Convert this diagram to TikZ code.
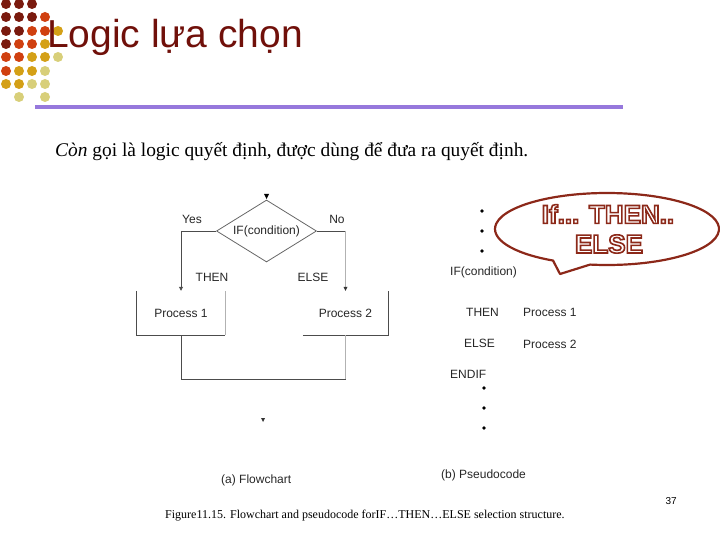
\documentclass[tikz,border=0pt]{standalone}
\usepackage{fontspec}
\setmainfont{Liberation Serif}
\newfontfamily\arial{Liberation Sans}
\usetikzlibrary{shapes.geometric,arrows.meta,calc}
\definecolor{dr}{RGB}{122,26,14}
\definecolor{orr}{RGB}{208,64,16}
\definecolor{gd}{RGB}{212,160,23}
\definecolor{pl}{RGB}{216,207,122}
\definecolor{titlec}{RGB}{112,16,10}
\definecolor{rulec}{RGB}{150,120,220}
\definecolor{callc}{RGB}{140,40,25}
\newcommand\outltext[1]{\special{pdf:literal direct 2 Tr 1.6 w 0.55 0.16 0.1 RG 1 1 1 rg}#1\special{pdf:literal direct 0 Tr 0 0 0 rg 0 0 0 RG 1 w}}
\begin{document}
\begin{tikzpicture}[x=1pt,y=-1pt,
  fc/.style={font=\arial\fontsize{12}{14}\selectfont, text=black!85, inner sep=0pt},
  dk/.style={draw=black!70, line width=0.8pt},
  lt/.style={draw=black!30, line width=0.8pt},
  tip/.style={-{Triangle[width=4pt,length=4pt]}},
  bul/.style={fill=black, circle, inner sep=0pt, minimum size=3.6pt}]
\useasboundingbox (0,0) rectangle (720,540);
% decorative dots
\foreach \x/\y/\c in {6/4/dr,19/4/dr,32/4/dr,
  6/17/dr,19/17/dr,32/17/dr,45/17/orr,
  6/31/dr,19/31/dr,32/31/orr,45/31/orr,58/31/gd,
  6/44/dr,19/44/orr,32/44/orr,45/44/gd,
  6/57/orr,19/57/orr,32/57/gd,45/57/gd,58/57/pl,
  6/71/orr,19/71/gd,32/71/gd,45/71/pl,
  6/84/gd,19/84/gd,32/84/pl,45/84/pl,
  19/97/pl,45/97/pl}
  \fill[\c] (\x,\y) circle (5pt);
% title
\node[anchor=base west, inner sep=0pt, text=titlec, font=\arial\fontsize{39}{42}\selectfont] (title) at (47,48) {Logic lựa chọn};
\draw[rulec, line width=4pt] (35,107) -- (623,107);
\node[anchor=base west, inner sep=0pt, font=\fontsize{19.4}{22}\selectfont] (sub) at (55,157) {\textit{Còn} gọi là logic quyết định, được dùng để đưa ra quyết định.};
% flowchart
\coordinate (entry) at (266.5,199);
\fill[black] (entry) -- ++(-2.5,-5) -- ++(5,0) -- cycle;
\node[diamond, draw=black!60, line width=0.8pt, minimum width=100pt, minimum height=62pt, inner sep=0pt] (dia) at (266.5,231) {};
\node[fc] (diatext) at (dia.center) {IF(condition)};
\node[fc, minimum width=88pt, minimum height=44pt] (p1) at (181,313) {Process 1};
\node[fc, minimum width=85pt, minimum height=44pt] (p2) at (345.5,313) {Process 2};
\coordinate (yc) at (p1.north |- dia.west);
\coordinate (nc) at (p2.north |- dia.east);
\draw[dk] (dia.west) -- (yc);
\draw[dk, tip] (yc) -- (p1.north);
\draw[dk] (dia.east) -- (nc);
\draw[lt] (nc) -- ($(p2.north)+(0,-4)$);
\fill[black!80] (p2.north) -- ++(-2,-4) -- ++(4,0) -- cycle;
\draw[dk] (p1.north west) -- (p1.south west) -- (p1.south east);
\draw[lt] (p1.south east) -- (p1.north east);
\draw[dk] (p2.south west) -- (p2.south east) -- (p2.north east);
\coordinate (j1) at (p1.south |- 0,379);
\coordinate (j2) at (p2.south |- 0,379);
\draw[dk] (p1.south) -- (j1) -- (j2);
\draw[lt] (j2) -- (p2.south);
\node[fc] (yes) at (192,219) {Yes};
\node[fc] (no) at (337,219) {No};
\node[fc] (then1) at (212,277) {THEN};
\node[fc] (else1) at (313,277) {ELSE};
\coordinate (exitc) at (263,422);
\fill[black!80] (exitc) -- ++(-2,-4) -- ++(4,0) -- cycle;
\node[fc, anchor=base west] (capa) at (221,483) {(a) Flowchart};
% pseudocode
\node[bul] (b1) at (482,211) {};
\node[bul] (b2) at (482,231) {};
\node[bul] (b3) at (482,251) {};
\node[fc, anchor=west] (ifc) at (450,272) {IF(condition)};
\node[fc, anchor=west] (then2) at (466,312) {THEN};
\node[fc, anchor=west] (pp1) at (523,312) {Process 1};
\node[fc, anchor=west] (else2) at (464,343) {ELSE};
\node[fc, anchor=west] (pp2) at (523,344) {Process 2};
\node[fc, anchor=west] (endif) at (450,374) {ENDIF};
\node[bul] (b4) at (484,388) {};
\node[bul] (b5) at (484,408) {};
\node[bul] (b6) at (484,428) {};
\node[fc, anchor=base west] (capb) at (441,478) {(b) Pseudocode};
% callout
\coordinate (cc) at (607,229);
\coordinate (ctip) at (560,274);
\draw[callc, line width=2.2pt, fill=white, line join=round]
  ($(cc)+(261.3:112pt and 36pt)$) arc[start angle=261.3, end angle=601.2, x radius=112pt, y radius=36pt] -- (ctip) -- cycle;
\node[inner sep=0pt, font=\arial\bfseries\fontsize{26}{28}\selectfont] (call1) at (608,214) {\outltext{If... THEN..}};
\node[inner sep=0pt, font=\arial\bfseries\fontsize{26}{28}\selectfont] (call2) at (609,244) {\outltext{ELSE}};
% footer
\node[anchor=base west, inner sep=0pt, font=\fontsize{12}{14}\selectfont] (fig) at (165,518) {Figure11.15. Flowchart and pseudocode forIF…THEN…ELSE selection structure.};
\node[anchor=base east, inner sep=0pt, font=\arial\fontsize{10}{12}\selectfont] (pg) at (677,504) {37};
\end{tikzpicture}
\end{document}
